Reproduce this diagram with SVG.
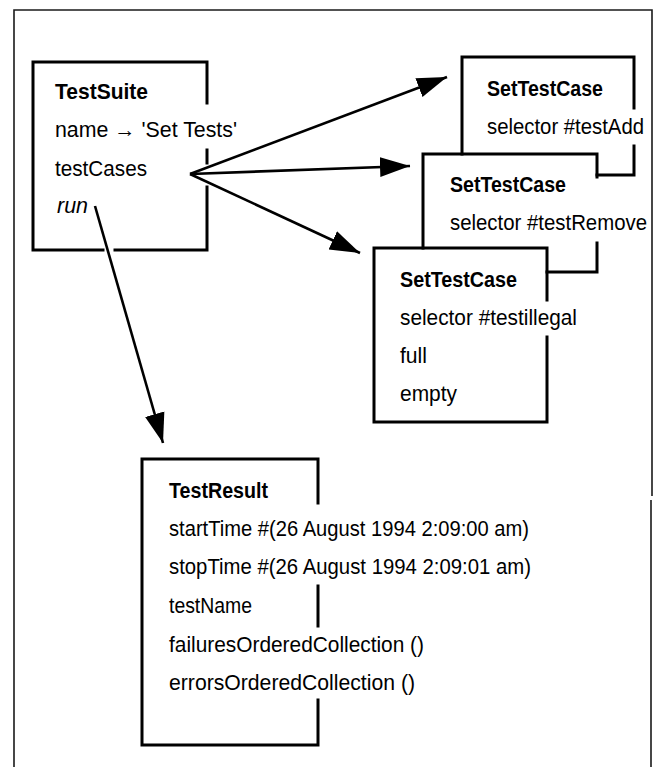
<svg xmlns="http://www.w3.org/2000/svg" width="664" height="767" viewBox="0 0 664 767">
<style>
.frame{fill:none;stroke:#1a1a1a;stroke-width:1.6}
.box{fill:none;stroke:#000;stroke-width:3;stroke-linecap:square;stroke-linejoin:miter}
.conn{fill:none;stroke:#000;stroke-width:2.6}
text{font-family:"Liberation Sans","Arial",sans-serif;font-size:22px;fill:#000}
.b{font-weight:bold}
.i{font-style:italic}
</style>
<defs>
<marker id="ah" markerUnits="userSpaceOnUse" markerWidth="32" markerHeight="24" refX="30" refY="11" orient="auto" viewBox="0 0 32 22">
<path d="M0,1 L30,11 L0,21 Z" fill="#000"/>
</marker>
</defs>
<rect width="664" height="767" fill="#fff"/>
<g id="frame">
<path class="frame" d="M14,767 V10 H652 V496 M651,500 V767"/>
</g>
<g id="connectors">
<line class="conn" x1="190" y1="174" x2="447" y2="77" marker-end="url(#ah)"/>
<line class="conn" x1="190" y1="174" x2="410" y2="166" marker-end="url(#ah)"/>
<line class="conn" x1="190" y1="174" x2="360" y2="253" marker-end="url(#ah)"/>
<line class="conn" x1="95" y1="206" x2="163" y2="443" marker-end="url(#ah)"/>
</g>
<g id="TestSuite">
<path class="box" d="M207,103 V62 H33 V250 H103 M115,250 H207 V187 M207,163 V150"/>
<text class="b" x="55" y="99" textLength="93" lengthAdjust="spacingAndGlyphs">TestSuite</text>
<text x="55" y="137" textLength="182" lengthAdjust="spacingAndGlyphs">name → 'Set Tests'</text>
<text x="55" y="176" textLength="92" lengthAdjust="spacingAndGlyphs">testCases</text>
<text class="i" x="57" y="213" textLength="31" lengthAdjust="spacingAndGlyphs">run</text>
</g>
<g id="SetTestCase1">
<path class="box" d="M634,108 V57 H462 V154 M634,146 V175 H597"/>
<text class="b" x="487" y="96" textLength="116" lengthAdjust="spacingAndGlyphs">SetTestCase</text>
<text x="487" y="134" textLength="157" lengthAdjust="spacingAndGlyphs">selector #testAdd</text>
</g>
<g id="SetTestCase2">
<path class="box" d="M597,177 V154 H423 V248 M597,243 V272 H547"/>
<text class="b" x="450" y="192" textLength="116" lengthAdjust="spacingAndGlyphs">SetTestCase</text>
<text x="450" y="230" textLength="197" lengthAdjust="spacingAndGlyphs">selector #testRemove</text>
</g>
<g id="SetTestCase3">
<path class="box" d="M547,300 V248 H374 V422 H547 V337"/>
<text class="b" x="400" y="287" textLength="117" lengthAdjust="spacingAndGlyphs">SetTestCase</text>
<text x="400" y="325" textLength="177" lengthAdjust="spacingAndGlyphs">selector #testillegal</text>
<text x="400" y="363" textLength="27" lengthAdjust="spacingAndGlyphs">full</text>
<text x="400" y="401" textLength="57" lengthAdjust="spacingAndGlyphs">empty</text>
</g>
<g id="TestResult">
<path class="box" d="M318,503 V459 H142 V745 H318 V700 M318,586 V626"/>
<text class="b" x="169" y="498" textLength="99" lengthAdjust="spacingAndGlyphs">TestResult</text>
<text x="169" y="536" textLength="360" lengthAdjust="spacingAndGlyphs">startTime #(26 August 1994 2:09:00 am)</text>
<text x="169" y="574" textLength="362" lengthAdjust="spacingAndGlyphs">stopTime #(26 August 1994 2:09:01 am)</text>
<text x="169" y="613" textLength="83" lengthAdjust="spacingAndGlyphs">testName</text>
<text x="169" y="652" textLength="255" lengthAdjust="spacingAndGlyphs">failuresOrderedCollection ()</text>
<text x="169" y="690" textLength="246" lengthAdjust="spacingAndGlyphs">errorsOrderedCollection ()</text>
</g>
</svg>
